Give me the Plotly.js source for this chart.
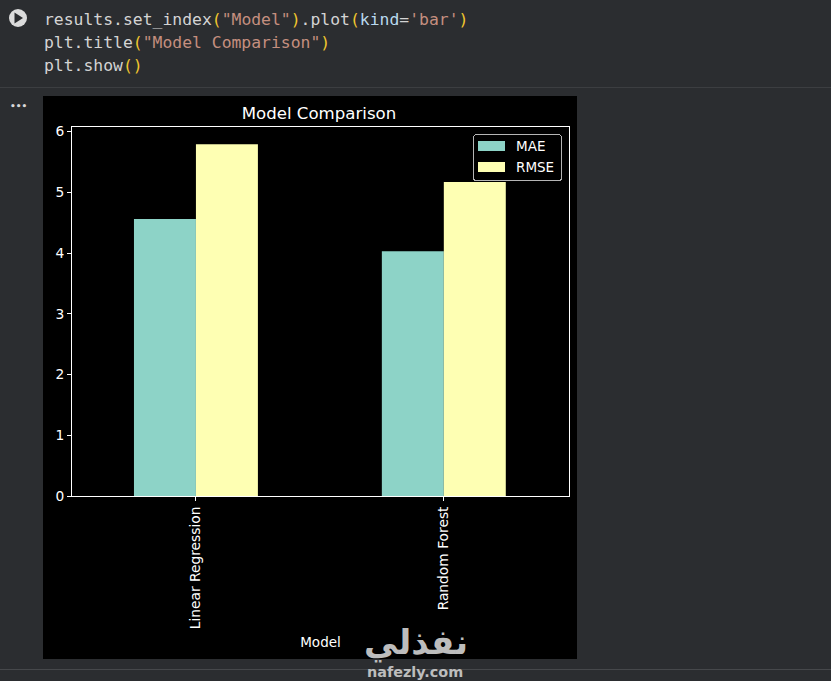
<!DOCTYPE html>
<html><head><meta charset="utf-8">
<script src="https://cdn.plot.ly/plotly-3.0.1.min.js"></script>
<style>html,body{margin:0;padding:0;background:#2b2d30;overflow:hidden}</style>
</head><body><div id="chart" style="width:831px;height:681px"></div>
<script>
const categories = ["Linear Regression", "Random Forest"];
const mae = [4.56, 4.03];
const rmse = [5.79, 5.17];
const yTicks = [0, 1, 2, 3, 4, 5, 6];

const W = 831, H = 681;
const L = 72, R = 569, T = 127, B = 496;
const px = v => (v - L) / (R - L), py = v => (B - v) / (B - T);
const mono = "'DejaVu Sans Mono', monospace";
const sans = "'DejaVu Sans', sans-serif";
const bg = "#2b2d30";
const fg = "#d4d4d4", str = "#c58f7f", par = "#f0c62e", kw = "#b9d9ee";
const c = (t, col) => `<span style="color:${col}">${t}</span>`;

const codeLines = [
  c("results.set_index", fg) + c("(", par) + c('"Model"', str) + c(")", par) + c(".plot", fg) + c("(", par) + c("kind", kw) + c("=", fg) + c("'bar'", str) + c(")", par),
  c("plt.title", fg) + c("(", par) + c('"Model Comparison"', str) + c(")", par),
  c("plt.show", fg) + c("()", par)
];
const annotations = codeLines.map((t, i) => ({
  text: t, xref: "paper", yref: "paper", x: px(42), y: py(19.5 + i * 23),
  xanchor: "left", yanchor: "middle", showarrow: false, align: "left",
  font: {family: mono, size: 16.4, color: fg}
}));
annotations.push(
  {text: "<b>نفذلي</b>", xref: "paper", yref: "paper", x: px(416), y: py(642), xanchor: "center", yanchor: "middle", showarrow: false,
   font: {family: sans, size: 34, color: "#bdbdbd"}},
  {text: "<b>nafezly.com</b>", xref: "paper", yref: "paper", x: px(415), y: py(672), xanchor: "center", yanchor: "middle", showarrow: false,
   font: {family: sans, size: 14.4, color: "#bdbdbd"}},
  {text: "<b>•••</b>", xref: "paper", yref: "paper", x: px(18), y: py(106), xanchor: "center", yanchor: "middle", showarrow: false,
   font: {family: sans, size: 9, color: "#d8d8d8"}}
);

const rect = (x0, y0, x1, y1, fill) => ({type: "rect", xref: "paper", yref: "paper", layer: "below",
  x0: px(x0), x1: px(x1), y0: py(y0), y1: py(y1), fillcolor: fill, line: {width: 0}});
const shapes = [
  rect(43, 96, 577, 659, "#000000"),
  rect(0, 87, 831, 88, "#3c3e41"),
  rect(0, 669, 831, 670, "#46484b"),
  {type: "circle", xref: "paper", yref: "paper", layer: "above", x0: px(9), x1: px(27), y0: py(9), y1: py(27), fillcolor: "#dcdcdc", line: {width: 0}},
  {type: "path", xref: "paper", yref: "paper", layer: "above",
   path: `M ${px(14.5)} ${py(12.5)} L ${px(23)} ${py(18)} L ${px(14.5)} ${py(23.5)} Z`, fillcolor: bg, line: {width: 0}}
];

const data = [
  {type: "bar", name: "MAE", x: categories, y: mae, marker: {color: "#8dd3c7"}},
  {type: "bar", name: "RMSE", x: categories, y: rmse, marker: {color: "#feffb3"}}
];
const layout = {
  width: W, height: H,
  paper_bgcolor: bg, plot_bgcolor: "#000000",
  margin: {l: L, r: W - R, t: T, b: H - B, pad: 0},
  barmode: "group", bargap: 0.5, bargroupgap: 0,
  font: {family: sans, color: "#ffffff", size: 13.8},
  title: {text: "Model Comparison", font: {family: sans, size: 16.6, color: "#ffffff"},
    x: 319 / W, xanchor: "center", y: 1 - 113 / H, yanchor: "middle"},
  xaxis: {type: "category", range: [-0.5, 1.505], tickangle: -90, ticks: "outside", ticklen: 4, tickwidth: 1, tickcolor: "#fff",
    showgrid: false, showline: true, mirror: true, linecolor: "#fff", linewidth: 1, zeroline: false,
    tickfont: {family: sans, size: 13.8, color: "#fff"},
    title: {text: "Model", standoff: 9, font: {family: sans, size: 13.5, color: "#fff"}}},
  yaxis: {range: [0, 6.075], tickmode: "array", tickvals: yTicks, ticktext: yTicks.map(String), ticks: "outside", ticklen: 4, tickwidth: 1, tickcolor: "#fff",
    showgrid: false, showline: true, mirror: true, linecolor: "#fff", linewidth: 1, zeroline: false,
    tickfont: {family: sans, size: 13.8, color: "#fff"}},
  legend: {x: px(473), xanchor: "left", y: py(134), yanchor: "top",
    bgcolor: "#000000", bordercolor: "#b5b5b5", borderwidth: 1, font: {family: sans, size: 13.5, color: "#fff"},
    itemwidth: 30, traceorder: "normal", tracegroupgap: 0},
  annotations, shapes
};
const legendRows = [12, 33];
Plotly.newPlot("chart", data, layout, {displayModeBar: false, responsive: false}).then(gd => {
  const leg = gd.querySelector(".legend");
  const box = leg.querySelector("rect.bg");
  box.setAttribute("width", 88);
  box.setAttribute("height", 46);
  box.setAttribute("rx", 3);
  leg.querySelectorAll(".legendpoints path").forEach(p => p.setAttribute("d", "M-18,5H9V-5H-18Z"));
  leg.querySelectorAll(".traces").forEach((t, i) => {
    const m = /translate\(([-\d.]+)/.exec(t.getAttribute("transform"));
    t.setAttribute("transform", `translate(${parseFloat(m[1]) + 2},${legendRows[i]})`);
  });
});
</script></body></html>
